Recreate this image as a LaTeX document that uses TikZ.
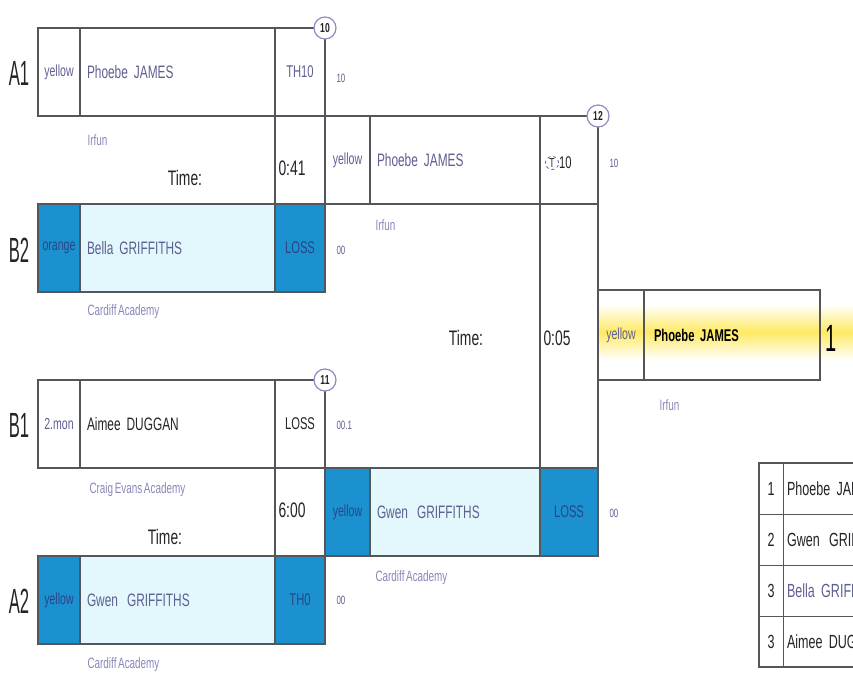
\documentclass[tikz,border=0pt]{standalone}
\usepackage{fontspec}
\setmainfont{Liberation Sans}[FakeStretch=0.66, WordSpace=0.6]
\usepackage{tikz}
\usetikzlibrary{positioning}
\definecolor{jline}{RGB}{85,85,92}
\definecolor{jlav}{RGB}{140,140,195}
\definecolor{jblue}{RGB}{28,145,208}
\definecolor{jcyan}{RGB}{226,248,252}
\definecolor{jname}{RGB}{95,95,145}
\definecolor{jdeep}{RGB}{40,70,135}
\definecolor{jclub}{RGB}{135,135,185}
\definecolor{jyel}{RGB}{255,234,100}
\definecolor{jink}{RGB}{35,35,40}
\tikzset{
  cell/.style={
    draw=jline, line width=1.3pt, anchor=north west, inner sep=0pt,
    outer sep=0pt, minimum height=88pt, text=jname
  },
  colcell/.style={cell, minimum width=42pt, font=\fontsize{16}{16}\selectfont},
  namecell/.style={
    cell, minimum width=195pt, text width=181pt, align=left,
    font=\fontsize{18}{18}\selectfont
  },
  sccell/.style={cell, minimum width=50pt, font=\fontsize{17}{17}\selectfont},
  lost/.style={fill=jblue, text=jdeep},
  lostname/.style={fill=jcyan},
  pool/.style={font=\fontsize{35}{35}\selectfont, text=jink},
  club/.style={anchor=west, font=\fontsize{15}{15}\selectfont, text=jclub},
  pts/.style={anchor=west, font=\fontsize{12}{12}\selectfont, text=jname},
  clock/.style={anchor=west, font=\fontsize{21}{21}\selectfont, text=jink},
  timelbl/.style={font=\fontsize{21}{21}\selectfont, text=jink},
  rnd/.style={
    circle, draw=jlav, line width=1.2pt, fill=white, inner sep=0pt,
    minimum size=22pt, font=\fontsize{13}{13}\selectfont\bfseries, text=jink
  },
  link/.style={draw=jline, line width=1.3pt},
  tnum/.style={
    draw=jline, line width=1pt, anchor=north west, inner sep=0pt, outer sep=0pt,
    minimum width=24pt, minimum height=51pt, font=\fontsize{19}{19}\selectfont, text=jink
  },
  tname/.style={
    draw=jline, line width=1pt, inner sep=0pt, outer sep=0pt, minimum width=130pt,
    text width=122pt, align=left, minimum height=51pt,
    font=\fontsize{19}{19}\selectfont, text=jink
  }
}

\begin{document}
\begin{tikzpicture}[x=1pt, y=-1pt]
  \useasboundingbox (0,0) rectangle (853,676);
  \shade[top color=white, bottom color=white, middle color=jyel] (598,304) rectangle (853,360);

  % pools
  \node[pool] (la1) at (19,73) {\scalebox{0.72}[1]{A1}};
  \node[pool] (lb2) at (19,250) {\scalebox{0.72}[1]{B2}};
  \node[pool] (lb1) at (19,425) {\scalebox{0.72}[1]{B1}};
  \node[pool] (la2) at (19,601) {\scalebox{0.72}[1]{A2}};

  % first round
  \node[colcell] (a1c) at (38,28) {yellow};
  \node[namecell, right=0pt of a1c] (a1n) {Phoebe JAMES};
  \node[sccell, right=0pt of a1n] (a1s) {TH10};
  \node[colcell, lost] (b2c) at (38,204) {orange};
  \node[namecell, lostname, right=0pt of b2c] (b2n) {Bella GRIFFITHS};
  \node[sccell, lost, right=0pt of b2n] (b2s) {LOSS};
  \node[colcell] (b1c) at (38,380) {2.mon};
  \node[namecell, right=0pt of b1c, text=jink] (b1n) {Aimee DUGGAN};
  \node[sccell, right=0pt of b1n, text=jink] (b1s) {LOSS};
  \node[colcell, lost] (a2c) at (38,556) {yellow};
  \node[namecell, lostname, right=0pt of a2c] (a2n) {Gwen\hspace{3pt} GRIFFITHS};
  \node[sccell, lost, right=0pt of a2n] (a2s) {TH0};

  \draw[link] (a1s.south west) -- (b2s.north west);
  \draw[link] (b1s.south west) -- (a2s.north west);

  % second round
  \node[colcell, minimum width=45pt] (r2tc) at (325,116) {yellow};
  \node[namecell, minimum width=170pt, text width=156pt, right=0pt of r2tc] (r2tn) {Phoebe JAMES};
  \node[sccell, minimum width=58pt, right=0pt of r2tn] (r2ts) {};
  \node[circle, draw=jname, dashed, line width=0.8pt, inner sep=1pt,
    font=\fontsize{13}{13}\selectfont, text=jink] (r2tt) at (552,163) {T};
  \node[right=0pt of r2tt, inner sep=0pt, font=\fontsize{17}{17}\selectfont, text=jink] (r2tp) {10};
  \node[colcell, lost, minimum width=45pt] (r2bc) at (325,468) {yellow};
  \node[namecell, lostname, minimum width=170pt, text width=156pt, right=0pt of r2bc] (r2bn) {Gwen\hspace{3pt} GRIFFITHS};
  \node[sccell, lost, minimum width=58pt, right=0pt of r2bn] (r2bs) {LOSS};

  \draw[link] (r2ts.south west) -- (r2bs.north west);
  \draw[link] (r2ts.south east) -- (r2bs.north east);

  % final
  \node[colcell, minimum width=46pt, minimum height=90pt] (fc) at (598,290) {yellow};
  \node[namecell, minimum width=176pt, text width=156pt, minimum height=90pt,
    right=0pt of fc, text=black, font=\fontsize{17}{17}\selectfont\bfseries] (fn) {Phoebe JAMES};
  \node[font=\fontsize{38}{38}\selectfont, text=black] (fp) at (831,338) {\scalebox{0.8}[1]{1}};

  % match numbers
  \node[rnd] (m10) at (a1s.north east) {10};
  \node[rnd] (m11) at (b1s.north east) {11};
  \node[rnd] (m12) at (r2ts.north east) {12};

  % points
  \node[pts] (a1p) at (333,78) {10};
  \node[pts] (b2p) at (333,250) {00};
  \node[pts] (b1p) at (333,425) {00.1};
  \node[pts] (a2p) at (333,600) {00};
  \node[pts] (r2tq) at (606,163) {10};
  \node[pts] (r2bq) at (606,513) {00};

  % times
  \node[clock] (t10) at (275,168) {0:41};
  \node[timelbl] (l10) at (185,178) {Time:};
  \node[clock] (t11) at (275,510) {6:00};
  \node[timelbl] (l11) at (165,537) {Time:};
  \node[clock] (t12) at (540,338) {0:05};
  \node[timelbl] (l12) at (466,338) {Time:};

  % clubs
  \node[club] (a1k) at (84,140) {Irfun};
  \node[club] (b2k) at (84,312) {Cardiff Academy};
  \node[club] (b1k) at (86,490) {Craig Evans Academy};
  \node[club] (a2k) at (84,665) {Cardiff Academy};
  \node[club] (r2tk) at (372,225) {Irfun};
  \node[club] (r2bk) at (372,578) {Cardiff Academy};
  \node[club] (fk) at (656,405) {Irfun};

  % ranking
  \begin{scope}
    \clip (0,0) rectangle (853,676);
    \node[tnum] (p1) at (759,463) {1};
    \node[tname, right=0pt of p1] (q1) {Phoebe JAMES};
    \node[tnum, below=0pt of p1] (p2) {2};
    \node[tname, right=0pt of p2] (q2) {Gwen\hspace{3pt} GRIFFITHS};
    \node[tnum, below=0pt of p2] (p3) {3};
    \node[tname, right=0pt of p3, text=jname] (q3) {Bella GRIFFITHS};
    \node[tnum, below=0pt of p3] (p4) {3};
    \node[tname, right=0pt of p4] (q4) {Aimee DUGGAN};
    \draw[draw=jline, line width=2.2pt] (p1.north west) rectangle (q4.south east);
  \end{scope}
\end{tikzpicture}
\end{document}
